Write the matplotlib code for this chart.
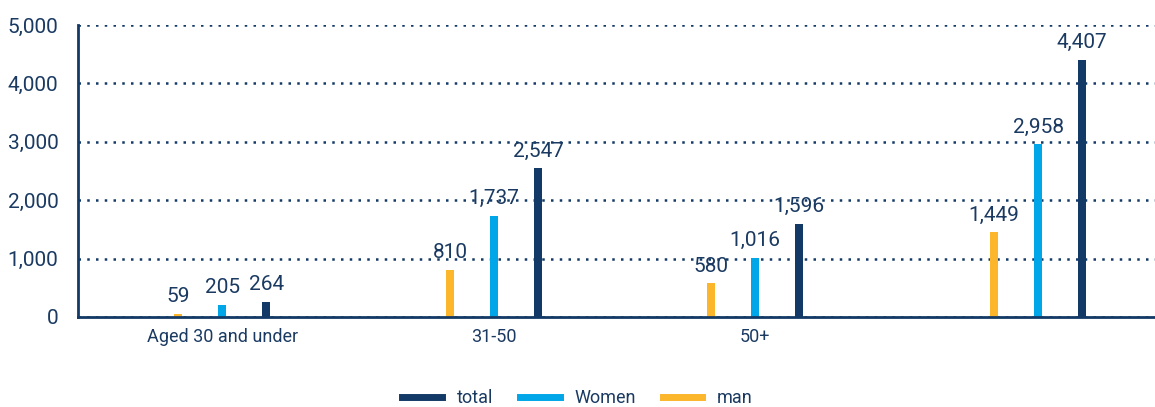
import matplotlib
matplotlib.use('Agg')
import matplotlib.pyplot as plt
import numpy as np
from matplotlib.lines import Line2D
from matplotlib.ticker import FuncFormatter

plt.rcParams['font.family'] = ['Roboto', 'DejaVu Sans']

# data
categories = ['Aged 30 and under', '31-50', '50+', '']
man = [59, 810, 580, 1449]
women = [205, 1737, 1016, 2958]
total = [264, 2547, 1596, 4407]

navy = '#133a66'
blue = '#00a6e8'
orange = '#fbb62c'
text_col = '#1a3a62'

fig = plt.figure(figsize=(11.55, 4.07), dpi=100)
ax = fig.add_axes([78 / 1155, 1 - 317 / 407, 1 - 78 / 1155, (317 - 25) / 407])

# group centres (slightly uneven, as in the original layout)
x = np.array([0, 1, 1.96, 3.0])
off = 0.162
w = 0.028
series = [(man, orange, -off), (women, blue, 0), (total, navy, off)]
for vals, col, dx in series:
    bars = ax.bar(x + dx, vals, width=w, color=col, zorder=3)
    for b, v in zip(bars, vals):
        ax.text(b.get_x() + b.get_width() / 2, v + 130, f'{v:,}',
                ha='center', va='bottom', fontsize=15, color=text_col, zorder=4)

ax.set_xlim(-0.53, 3.43)
ax.set_ylim(0, 5000)
ax.set_yticks(range(0, 5001, 1000))
ax.yaxis.set_major_formatter(FuncFormatter(lambda v, p: f'{int(v):,}'))
ax.set_xticks(x)
ax.set_xticklabels(categories)
ax.tick_params(axis='y', length=0, pad=14, labelsize=15, labelcolor=text_col)
ax.tick_params(axis='x', length=0, pad=8, labelsize=13, labelcolor=text_col)

ax.grid(axis='y', linestyle=(0, (1, 2.5)), color=navy, linewidth=1.8, zorder=0)
for s in ['top', 'right']:
    ax.spines[s].set_visible(False)
for s in ['left', 'bottom']:
    ax.spines[s].set_color(navy)
    ax.spines[s].set_linewidth(2)
    ax.spines[s].set_zorder(5)

handles = [Line2D([0], [0], color=navy, lw=5),
           Line2D([0], [0], color=blue, lw=5),
           Line2D([0], [0], color=orange, lw=5)]
leg = fig.legend(handles, ['total', 'Women', 'man'], loc='center',
                 bbox_to_anchor=(0.5, 1 - 398 / 407), ncol=3, frameon=False,
                 fontsize=13, handlelength=2.2, columnspacing=1.5, handletextpad=0.8)
for t in leg.get_texts():
    t.set_color(text_col)

fig.savefig('out.png', dpi=100)
plt.close()
